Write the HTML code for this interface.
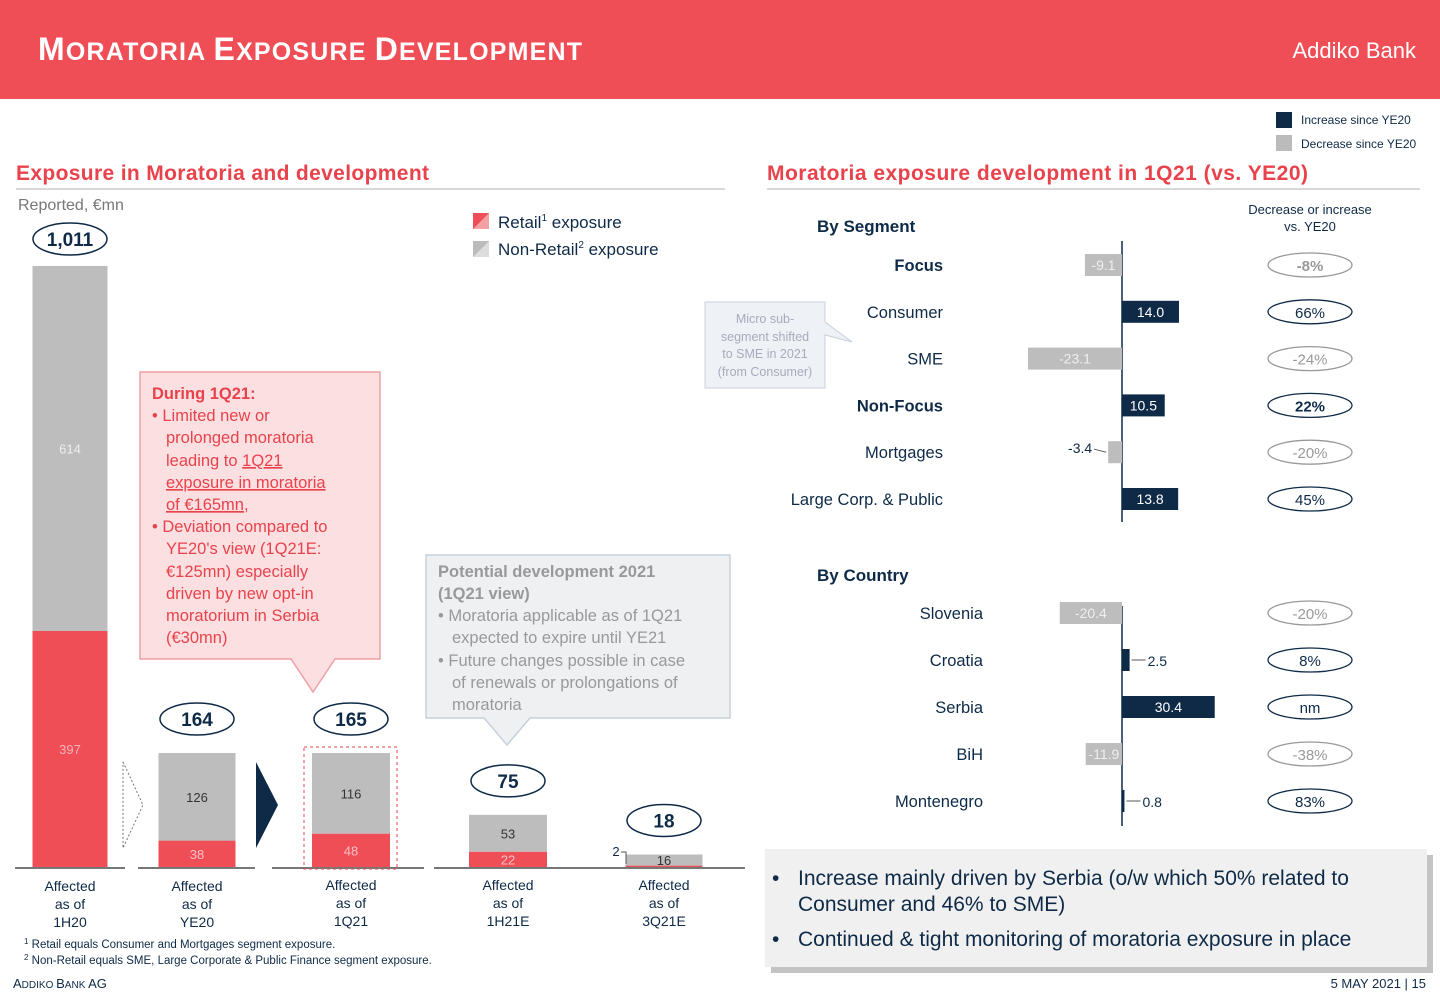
<!DOCTYPE html>
<html><head><meta charset="utf-8">
<style>
html,body{margin:0;padding:0;background:#fff;}
svg{display:block;font-family:"Liberation Sans",sans-serif;}
</style></head>
<body>
<svg id="s" width="1440" height="997" viewBox="0 0 1440 997" xmlns="http://www.w3.org/2000/svg">
<rect x="0" y="0" width="1440" height="99" fill="#f04e57"/>
<text x="38" y="60" fill="#fff" font-size="32" font-weight="bold" textLength="544">M<tspan font-size="25">ORATORIA </tspan>E<tspan font-size="25">XPOSURE </tspan>D<tspan font-size="25">EVELOPMENT</tspan></text>
<text x="1416" y="58" fill="#fff" font-size="22" text-anchor="end">Addiko Bank</text>

<!-- Left section -->
<text x="16" y="180" fill="#e8434c" font-size="21" font-weight="bold" textLength="413">Exposure in Moratoria and development</text>
<line x1="16" y1="189" x2="725" y2="189" stroke="#ccc" stroke-width="1.5"/>
<text x="18" y="210" fill="#777" font-size="16">Reported, €mn</text>

<rect x="473" y="213" width="16" height="16" fill="#f4a0a5"/>
<polygon points="473,229 489,213 473,213" fill="#f04e57"/>
<text x="498" y="228" fill="#0e2a47" font-size="17">Retail<tspan font-size="10" dy="-7">1</tspan><tspan dy="7"> exposure</tspan></text>
<rect x="473" y="241" width="16" height="16" fill="#ddd"/>
<polygon points="473,257 489,241 473,241" fill="#bbb"/>
<text x="498" y="255" fill="#0e2a47" font-size="17">Non-Retail<tspan font-size="10" dy="-7">2</tspan><tspan dy="7"> exposure</tspan></text>

<g id="leftChart"></g>

<!-- arrows between bars -->
<polygon points="123,762 143,805 123,848" fill="none" stroke="#777" stroke-dasharray="2,2"/>
<polygon points="256,762 278,805 256,848" fill="#0e2a47"/>
<rect x="304" y="747" width="93" height="122" fill="none" stroke="#e8434c" stroke-dasharray="3,3"/>

<!-- red callout -->
<g>
<polygon points="140,372 380,372 380,659 335,659 313,692 291,659 140,659" fill="#fcdfe1" stroke="#f0a0a6" stroke-width="1.5"/>
<g fill="#e8434c" font-size="16.5">
<text x="152" y="399" font-weight="bold">During 1Q21:</text>
<text x="152" y="421">• Limited new or</text>
<text x="166" y="443">prolonged moratoria</text>
<text x="166" y="466">leading to <tspan text-decoration="underline">1Q21</tspan></text>
<text x="166" y="488" text-decoration="underline">exposure in moratoria</text>
<text x="166" y="510"><tspan text-decoration="underline">of €165mn</tspan>,</text>
<text x="152" y="532">• Deviation compared to</text>
<text x="166" y="554">YE20's view (1Q21E:</text>
<text x="166" y="577">€125mn) especially</text>
<text x="166" y="599">driven by new opt-in</text>
<text x="166" y="621">moratorium in Serbia</text>
<text x="166" y="643">(€30mn)</text>
</g></g>

<!-- grey callout -->
<g>
<polygon points="426,555 730,555 730,718 530,718 507,745 484,718 426,718" fill="#eef0f2" stroke="#c8d0dc" stroke-width="1.5"/>
<g fill="#999" font-size="16.5">
<text x="438" y="577" font-weight="bold">Potential development 2021</text>
<text x="438" y="599" font-weight="bold">(1Q21 view)</text>
<text x="438" y="621">• Moratoria applicable as of 1Q21</text>
<text x="452" y="643">expected to expire until YE21</text>
<text x="438" y="666">• Future changes possible in case</text>
<text x="452" y="688">of renewals or prolongations of</text>
<text x="452" y="710">moratoria</text>
</g></g>

<text x="24" y="948" fill="#0e2a47" font-size="11.5"><tspan font-size="8" dy="-4">1</tspan><tspan dy="4"> Retail equals Consumer and Mortgages segment exposure.</tspan></text>
<text x="24" y="964" fill="#0e2a47" font-size="11.5"><tspan font-size="8" dy="-4">2</tspan><tspan dy="4"> Non-Retail equals SME, Large Corporate &amp; Public Finance segment exposure.</tspan></text>
<text x="13" y="988" fill="#0e2a47" font-size="13">A<tspan font-size="10">DDIKO </tspan>B<tspan font-size="10">ANK </tspan>AG</text>

<!-- Right section -->
<rect x="1276" y="112" width="16" height="16" fill="#0e2a47"/>
<text x="1301" y="124" fill="#0e2a47" font-size="12">Increase since YE20</text>
<rect x="1276" y="135" width="16" height="16" fill="#bbb"/>
<text x="1301" y="148" fill="#0e2a47" font-size="12">Decrease since YE20</text>

<text x="767" y="180" fill="#e8434c" font-size="21" font-weight="bold" textLength="541">Moratoria exposure development in 1Q21 (vs. YE20)</text>
<line x1="767" y1="189" x2="1420" y2="189" stroke="#ccc" stroke-width="1.5"/>
<text x="1310" y="214" fill="#0e2a47" font-size="13" text-anchor="middle">Decrease or increase</text>
<text x="1310" y="231" fill="#0e2a47" font-size="13" text-anchor="middle">vs. YE20</text>
<text x="817" y="232" fill="#0e2a47" font-size="17" font-weight="bold">By Segment</text>
<text x="817" y="581" fill="#0e2a47" font-size="17" font-weight="bold">By Country</text>

<g>
<polygon points="705,302 825,302 825,322 852,342 825,335 825,388 705,388" fill="#eef1f6" stroke="#c8d0dc"/>
<g fill="#aab" font-size="12.5" text-anchor="middle">
<text x="765" y="323">Micro sub-</text><text x="765" y="341">segment shifted</text><text x="765" y="358">to SME in 2021</text><text x="765" y="376">(from Consumer)</text></g></g>

<g id="rightChart"></g>

<g>
<rect x="768" y="852" width="662" height="118" fill="#555" opacity="0.35" transform="translate(3,3)"/>
<rect x="765" y="849" width="662" height="118" fill="#f0f0f0"/>
<g fill="#0e2a47" font-size="21">
<text x="772" y="885">•</text><text x="798" y="885">Increase mainly driven by Serbia (o/w which 50% related to</text>
<text x="798" y="911">Consumer and 46% to SME)</text>
<text x="772" y="946">•</text><text x="798" y="946">Continued &amp; tight monitoring of moratoria exposure in place</text>
</g></g>
<text x="1426" y="988" fill="#0e2a47" font-size="13" text-anchor="end">5 MAY 2021 | 15</text>
</svg>
<script>
// Left stacked bar data
const periods = ["1H20","YE20","1Q21","1H21E","3Q21E"];
const retail = [397,38,48,22,2];
const nonRetail = [614,126,116,53,16];
const totals = ["1,011","164","165","75","18"];

// Segment / country change data
const segments = ["Focus","Consumer","SME","Non-Focus","Mortgages","Large Corp. & Public"];
const segmentValues = [-9.1,14.0,-23.1,10.5,-3.4,13.8];
const segmentPct = ["-8%","66%","-24%","22%","-20%","45%"];
const countries = ["Slovenia","Croatia","Serbia","BiH","Montenegro"];
const countryValues = [-20.4,2.5,30.4,-11.9,0.8];
const countryPct = ["-20%","8%","nm","-38%","83%"];

const NS="http://www.w3.org/2000/svg";
function mk(parent,tag,attrs,txt){const e=document.createElementNS(NS,tag);for(const k in attrs)e.setAttribute(k,attrs[k]);if(txt!==undefined)e.textContent=txt;parent.appendChild(e);return e;}

// Left chart
const L=document.getElementById('leftChart');
const base=867;
const xc=[70,197,351,508,664];
const bw=[75,77,78,78,77];
function yScale(i,v){return i===0? v*0.5945 : v*0.695;} // first bar drawn on compressed scale
const baseSegs=[[15,125],[138,255],[272,424],[434,580],[580,745]];
baseSegs.forEach(s=>{const l=mk(L,'line',{x1:s[0],x2:s[1],y1:base+1,y2:base+1,stroke:'#777','stroke-width':2});

});
periods.forEach((p,i)=>{
  const hr=yScale(i,retail[i]), hn=yScale(i,nonRetail[i]);
  const x=xc[i]-bw[i]/2;
  const r=mk(L,'rect',{x:x,y:base-hr,width:bw[i],height:hr,fill:'#f04e57'});
  
  
  const n=mk(L,'rect',{x:x,y:base-hr-hn,width:bw[i],height:hn,fill:'#bdbdbd'});
  
  
  const fs=13;
  if(i<4){
    const tr=mk(L,'text',{x:xc[i],y:base-hr/2+5,fill:i===0?'#f7b3b7':'#f7c0c3','font-size':fs,'text-anchor':'middle'},String(retail[i]));
    
    
  } else {
    const tr=mk(L,'text',{x:xc[i]-48,y:base-11,fill:'#0e2a47','font-size':fs,'text-anchor':'middle'},String(retail[i]));
    
    
    mk(L,'polyline',{points:(xc[i]-43)+','+(base-15)+' '+(xc[i]-38)+','+(base-15)+' '+(xc[i]-38)+','+(base-3),fill:'none',stroke:'#555'});
  }
  const tn=mk(L,'text',{x:xc[i],y:base-hr-hn/2+5,fill:i===0?'#eee':'#333','font-size':fs,'text-anchor':'middle'},String(nonRetail[i]));
  
  
  const top=base-hr-hn;
  const cy=i===0?239:top-34;
  const e=mk(L,'ellipse',{cx:xc[i],cy:cy,rx:37,ry:16,fill:'#fff',stroke:'#0e2a47','stroke-width':1.5});
  
  
  const t=mk(L,'text',{x:xc[i],y:cy+7,fill:'#0e2a47','font-size':19,'font-weight':'bold','text-anchor':'middle'},totals[i]);
  
  
  const lbl=["Affected","as of",p];
  lbl.forEach((s,k)=>{const tt=mk(L,'text',{x:xc[i],y:(i<2?891:890)+k*18,fill:'#0e2a47','font-size':14,'text-anchor':'middle'},s);
  
  });
});

// Right diverging bars
const R=document.getElementById('rightChart');
const ax=1122;
function drawGroup(names,vals,pcts,y0,dy,scale,labelX,boldIdx,axisTop,axisBot,prefix){
  const a=mk(R,'line',{x1:ax,x2:ax,y1:axisTop,y2:axisBot,stroke:'#0e2a47','stroke-width':1.5});
  
  
  names.forEach((nm,i)=>{
    const y=y0+i*dy, v=vals[i], w=Math.abs(v)*scale;
    const lt=mk(R,'text',{x:labelX,y:y+6,fill:'#0e2a47','font-size':16.5,'font-weight':boldIdx.includes(i)?'bold':'normal','text-anchor':'end'},nm);
    
    
    const b=mk(R,'rect',{x:v<0?ax-w:ax,y:y-11,width:w,height:22,fill:v<0?'#bdbdbd':'#0e2a47'});
    
    
    const txt=v.toFixed(1);
    let vt;
    if(w>=30){vt=mk(R,'text',{x:v<0?ax-w/2:ax+w/2,y:y+5,fill:v<0?'#eee':'#fff','font-size':14,'text-anchor':'middle'},txt);}
    else if(v<0){vt=mk(R,'text',{x:ax-w-16,y:y+1,fill:'#0e2a47','font-size':14,'text-anchor':'end'},txt);
      mk(R,'line',{x1:ax-w-14,x2:ax-w-2,y1:y-3,y2:y,stroke:'#555'});}
    else {vt=mk(R,'text',{x:ax+w+18,y:y+6,fill:'#0e2a47','font-size':14},txt);
      mk(R,'line',{x1:ax+w+2,x2:ax+w+16,y1:y,y2:y,stroke:'#555'});}
    
    
    const dec=pcts[i].startsWith('-');
    const e=mk(R,'ellipse',{cx:1310,cy:y,rx:42,ry:12,fill:'#fff',stroke:dec?'#999':'#0e2a47','stroke-width':1.3});
    
    
    const pt=mk(R,'text',{x:1310,y:y+6,fill:dec?'#999':'#0e2a47','font-size':15,'font-weight':boldIdx.includes(i)?'bold':'normal','text-anchor':'middle'},pcts[i]);
    
    
  });
}
drawGroup(segments,segmentValues,segmentPct,265,46.8,4.07,943,[0,3],241,522,'segment');
drawGroup(countries,countryValues,countryPct,613,47,3.05,983,[],606,826,'country');
</script>
</body></html>
